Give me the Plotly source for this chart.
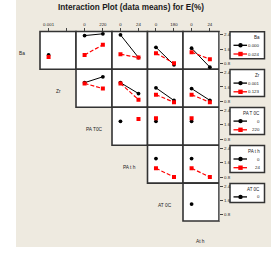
import plotly.graph_objects as go

W, H = 271, 255

# ---------------- data ----------------
factors = ["Ba", "Zr", "PA T0C", "PA t h", "AT 0C", "At h"]
legend_titles = ["Ba", "Zr", "PA T 0C", "PA t h", "AT 0C"]
legend_levels = [["0.000", "0.024"], ["0.001", "0.123"], ["0", "220"], ["0", "24"], ["0"]]
col_tick_text = [["0.001", ""], ["0", "220"], ["0", "24"], ["0", "180"], ["0", "24"]]
x_levels = [0, 1]
y_tick_vals = [0.8, 1.6, 2.4]
y_tick_text = ["0.8", "1.6", "2.4"]

# means per row factor; one entry per column (x-factor) that the row shows
ba_black = [[1.27, None], [2.36, 2.46], [2.40, 1.12], [1.70, 0.71], [1.65, 0.58]]
ba_red = [[1.16, None], [1.27, 1.84], [1.31, 1.12], [1.37, 0.80], [1.42, 1.03]]
zr_black = [[1.84, 2.17], [1.84, 1.23], [1.55, 0.84], [1.51, 0.85]]
zr_red = [[1.80, 1.51], [1.80, 0.89], [1.17, 0.74], [1.17, 0.74]]
pat_black = [[1.80, None], [1.80, None], [1.80, None]]
pat_red = [[None, 1.93], [1.98, None], [1.98, None]]
pth_black = [[1.84, None], [1.84, None]]
pth_red = [[1.29, 0.80], [1.29, 0.80]]
atc_black = [[1.41, None]]

row_series = [
    [ba_black, ba_red],
    [zr_black, zr_red],
    [pat_black, pat_red],
    [pth_black, pth_red],
    [atc_black],
]

# ---------------- layout geometry (pixels) ----------------
col_edges = [40, 76, 112, 147.5, 183, 219]
row_edges = [31.5, 69.3, 107.3, 145.2, 183.1, 221]
X_RANGE = [-0.47, 1.5]
Y_RANGE = [0.46, 2.59]
BEIGE = "#EEEAE0"
BORDER = "#333333"
FONT = "Liberation Sans, Arial, sans-serif"

styles = [
    dict(color="black", symbol="circle", dash="solid", size=3.8, width=1.0),
    dict(color="#FF0000", symbol="square", dash="4px,2px", size=4.0, width=1.2),
]


def px(x):
    return x / W


def py(y):
    return 1 - y / H


fig = go.Figure()
layout = dict(
    width=W, height=H,
    margin=dict(l=0, r=0, t=0, b=0, autoexpand=False),
    paper_bgcolor="white",
    plot_bgcolor="rgba(0,0,0,0)",
    showlegend=False,
    font=dict(family=FONT, size=5, color="#222"),
)
shapes = [dict(type="rect", xref="paper", yref="paper", x0=px(16), x1=px(271), y0=py(247), y1=py(0),
               fillcolor=BEIGE, line=dict(width=0), layer="below")]
annotations = []

k = 0
for r in range(5):
    for c in range(r, 5):
        k += 1
        x0, x1 = col_edges[c], col_edges[c + 1]
        y0, y1 = row_edges[r], row_edges[r + 1]
        shapes.append(dict(type="rect", xref="paper", yref="paper", x0=px(x0), x1=px(x1), y0=py(y1), y1=py(y0),
                           fillcolor="white", line=dict(color=BORDER, width=1.6), layer="below"))
        xa = dict(domain=[px(x0), px(x1)], range=X_RANGE, anchor=f"y{k}", showgrid=False, zeroline=False,
                  fixedrange=True)
        if r == 0:
            xa.update(side="top", tickvals=x_levels, ticktext=col_tick_text[c], ticks="outside", ticklen=3,
                      tickwidth=0.8, tickcolor="#444", tickfont=dict(size=4.4, color="#222"), showline=False)
        else:
            xa.update(visible=False)
        ya = dict(domain=[py(y1), py(y0)], range=Y_RANGE, anchor=f"x{k}", showgrid=False, zeroline=False,
                  fixedrange=True)
        if c == 4:
            ya.update(side="right", tickvals=y_tick_vals, ticktext=y_tick_text, ticks="outside", ticklen=3,
                      tickwidth=0.8, tickcolor="#444", tickfont=dict(size=4.4, color="#222"),
                      showline=True, linecolor="#8a8a8a", linewidth=1.2)
        else:
            ya.update(visible=False)
        sfx = "" if k == 1 else str(k)
        layout["xaxis" + sfx] = xa
        layout["yaxis" + sfx] = ya
        for s, series in enumerate(row_series[r]):
            vals = series[c - r]
            st = styles[s]
            fig.add_trace(go.Scatter(
                x=x_levels, y=vals, mode="lines+markers", xaxis=f"x{k}", yaxis=f"y{k}",
                line=dict(color=st["color"], dash=st["dash"], width=st["width"]),
                marker=dict(color=st["color"], symbol=st["symbol"], size=st["size"]),
                connectgaps=False, hoverinfo="skip"))

# diagonal factor labels
label_cx = [22, 58, 94, 129.7, 165, 201]
for i, name in enumerate(factors):
    cy = (row_edges[i] + row_edges[i + 1]) / 2 + 3.5 if i < 5 else 241
    annotations.append(dict(x=px(label_cx[i]), y=py(cy), xref="paper", yref="paper", text=name,
                            showarrow=False, font=dict(size=4.8, color="#222"), xanchor="center",
                            yanchor="middle"))

# legends (one per row) drawn on a full-paper pixel overlay axis
k += 1
layout[f"xaxis{k}"] = dict(domain=[0, 1], range=[0, W], visible=False, anchor=f"y{k}", fixedrange=True)
layout[f"yaxis{k}"] = dict(domain=[0, 1], range=[H, 0], visible=False, anchor=f"x{k}", fixedrange=True)
LX0, LX1 = 230, 264.5
for r in range(5):
    top = row_edges[r] + 0.3
    n = len(legend_levels[r])
    bottom = top + (27 if n == 2 else 19)
    shapes.append(dict(type="rect", xref="paper", yref="paper", x0=px(LX0), x1=px(LX1), y0=py(bottom),
                       y1=py(top), fillcolor="white", line=dict(color=BORDER, width=1.5), layer="below"))
    annotations.append(dict(x=px(262), y=py(top + 6), xref="paper", yref="paper", text=legend_titles[r],
                            showarrow=False, font=dict(size=4.5, color="#222"), xanchor="right",
                            yanchor="middle"))
    for j, lab in enumerate(legend_levels[r]):
        ey = top + 13.5 + 8.7 * j
        st = styles[j]
        fig.add_trace(go.Scatter(x=[233.5, 240.5, 247], y=[ey, ey, ey], mode="lines", xaxis=f"x{k}",
                                 yaxis=f"y{k}", line=dict(color=st["color"], width=1.3), hoverinfo="skip"))
        fig.add_trace(go.Scatter(x=[240.5], y=[ey], mode="markers", xaxis=f"x{k}", yaxis=f"y{k}",
                                 marker=dict(color=st["color"], symbol=st["symbol"], size=4.4),
                                 hoverinfo="skip"))
        annotations.append(dict(x=px(262), y=py(ey), xref="paper", yref="paper", text=lab, showarrow=False,
                                font=dict(size=4.4, color="#222"), xanchor="right", yanchor="middle"))

# title
annotations.append(dict(x=px(131), y=py(7.2), xref="paper", yref="paper",
                        text="<b>Interaction Plot (data means) for E(%)</b>", showarrow=False,
                        font=dict(size=8.2, color="#1a1a1a", family=FONT), xanchor="center",
                        yanchor="middle"))

layout["shapes"] = shapes
layout["annotations"] = annotations
fig.update_layout(**layout)
fig.write_html("out.html", config={"displayModeBar": False},
               post_script="document.body.style.margin='0';document.body.style.padding='0';")
